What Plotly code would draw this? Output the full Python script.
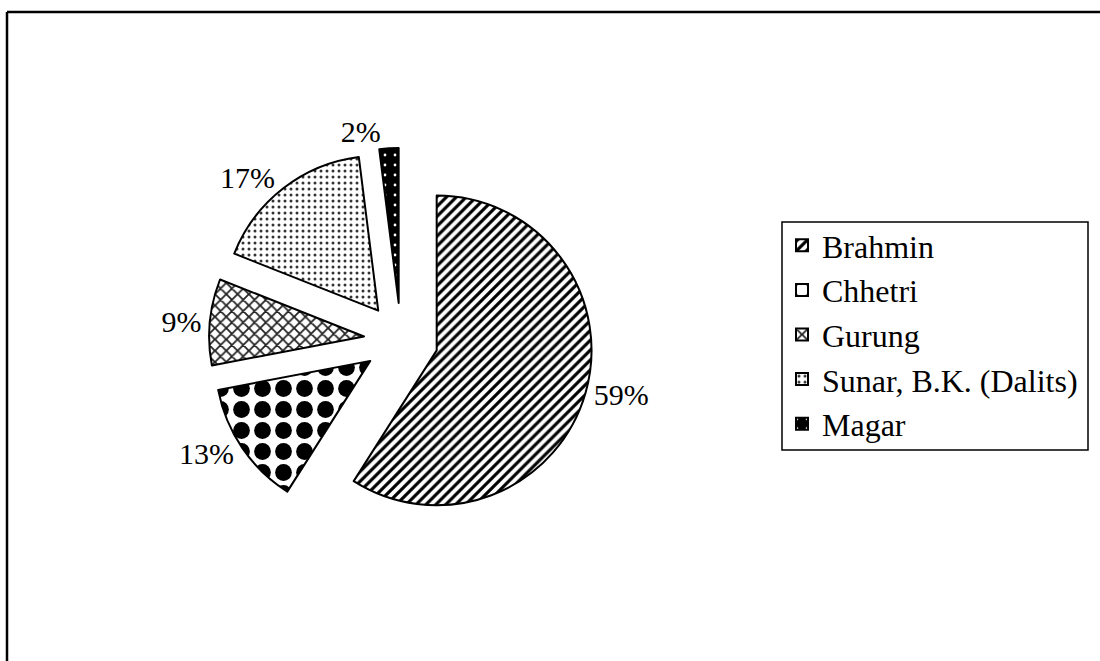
import plotly.graph_objects as go

W, H = 1100, 661

categories = ["Brahmin", "Chhetri", "Gurung", "Sunar, B.K. (Dalits)", "Magar"]
values = [59, 13, 9, 17, 2]

pat_shapes = ["/", ".", "x", ".", "."]
pat_fg = ["black", "black", "#222222", "#333333", "white"]
pat_bg = ["white", "white", "white", "white", "black"]
pat_size = [7, 21, 8, 6, 10]
pat_solid = [0.45, 0.5, 0.4, 0.2, 0.06]

FONT = "Liberation Serif, Times New Roman, serif"

def px_x(p):
    return p / W

def px_y(p):
    return 1 - p / H

fig = go.Figure(
    go.Pie(
        labels=categories,
        values=values,
        sort=False,
        direction="clockwise",
        rotation=0,
        pull=[0.24] * len(values),
        textinfo="percent",
        textposition="outside",
        textfont=dict(family=FONT, size=30, color="black"),
        marker=dict(
            colors=["white"] * len(values),
            line=dict(color="black", width=2),
            pattern=dict(
                shape=pat_shapes,
                fgcolor=pat_fg,
                bgcolor=pat_bg,
                size=pat_size,
                solidity=pat_solid,
                fillmode="replace",
            ),
        ),
        domain=dict(x=[px_x(209), px_x(593)], y=[px_y(532), px_y(148)]),
        hoverinfo="label+percent",
    )
)

fig.update_layout(
    width=W,
    height=H,
    margin=dict(l=0, r=0, t=0, b=0),
    paper_bgcolor="white",
    plot_bgcolor="white",
    font=dict(family=FONT, color="black"),
    showlegend=True,
    legend=dict(
        x=px_x(782),
        y=px_y(218),
        xanchor="left",
        yanchor="top",
        font=dict(family=FONT, size=32, color="black"),
        bgcolor="rgba(0,0,0,0)",
        borderwidth=0,
    ),
    shapes=[
        dict(type="rect", xref="paper", yref="paper",
             x0=px_x(782), x1=px_x(1088), y0=px_y(450), y1=px_y(222),
             line=dict(color="black", width=1.5), fillcolor="rgba(0,0,0,0)"),
        dict(type="line", xref="paper", yref="paper",
             x0=px_x(7), x1=1.01, y0=px_y(12), y1=px_y(12),
             line=dict(color="black", width=2.5)),
        dict(type="line", xref="paper", yref="paper",
             x0=px_x(7), x1=px_x(7), y0=-0.01, y1=px_y(12),
             line=dict(color="black", width=2.5)),
    ],
)

fig.write_html("out.html", config={"displayModeBar": False},
               post_script="document.body.style.margin='0';")
